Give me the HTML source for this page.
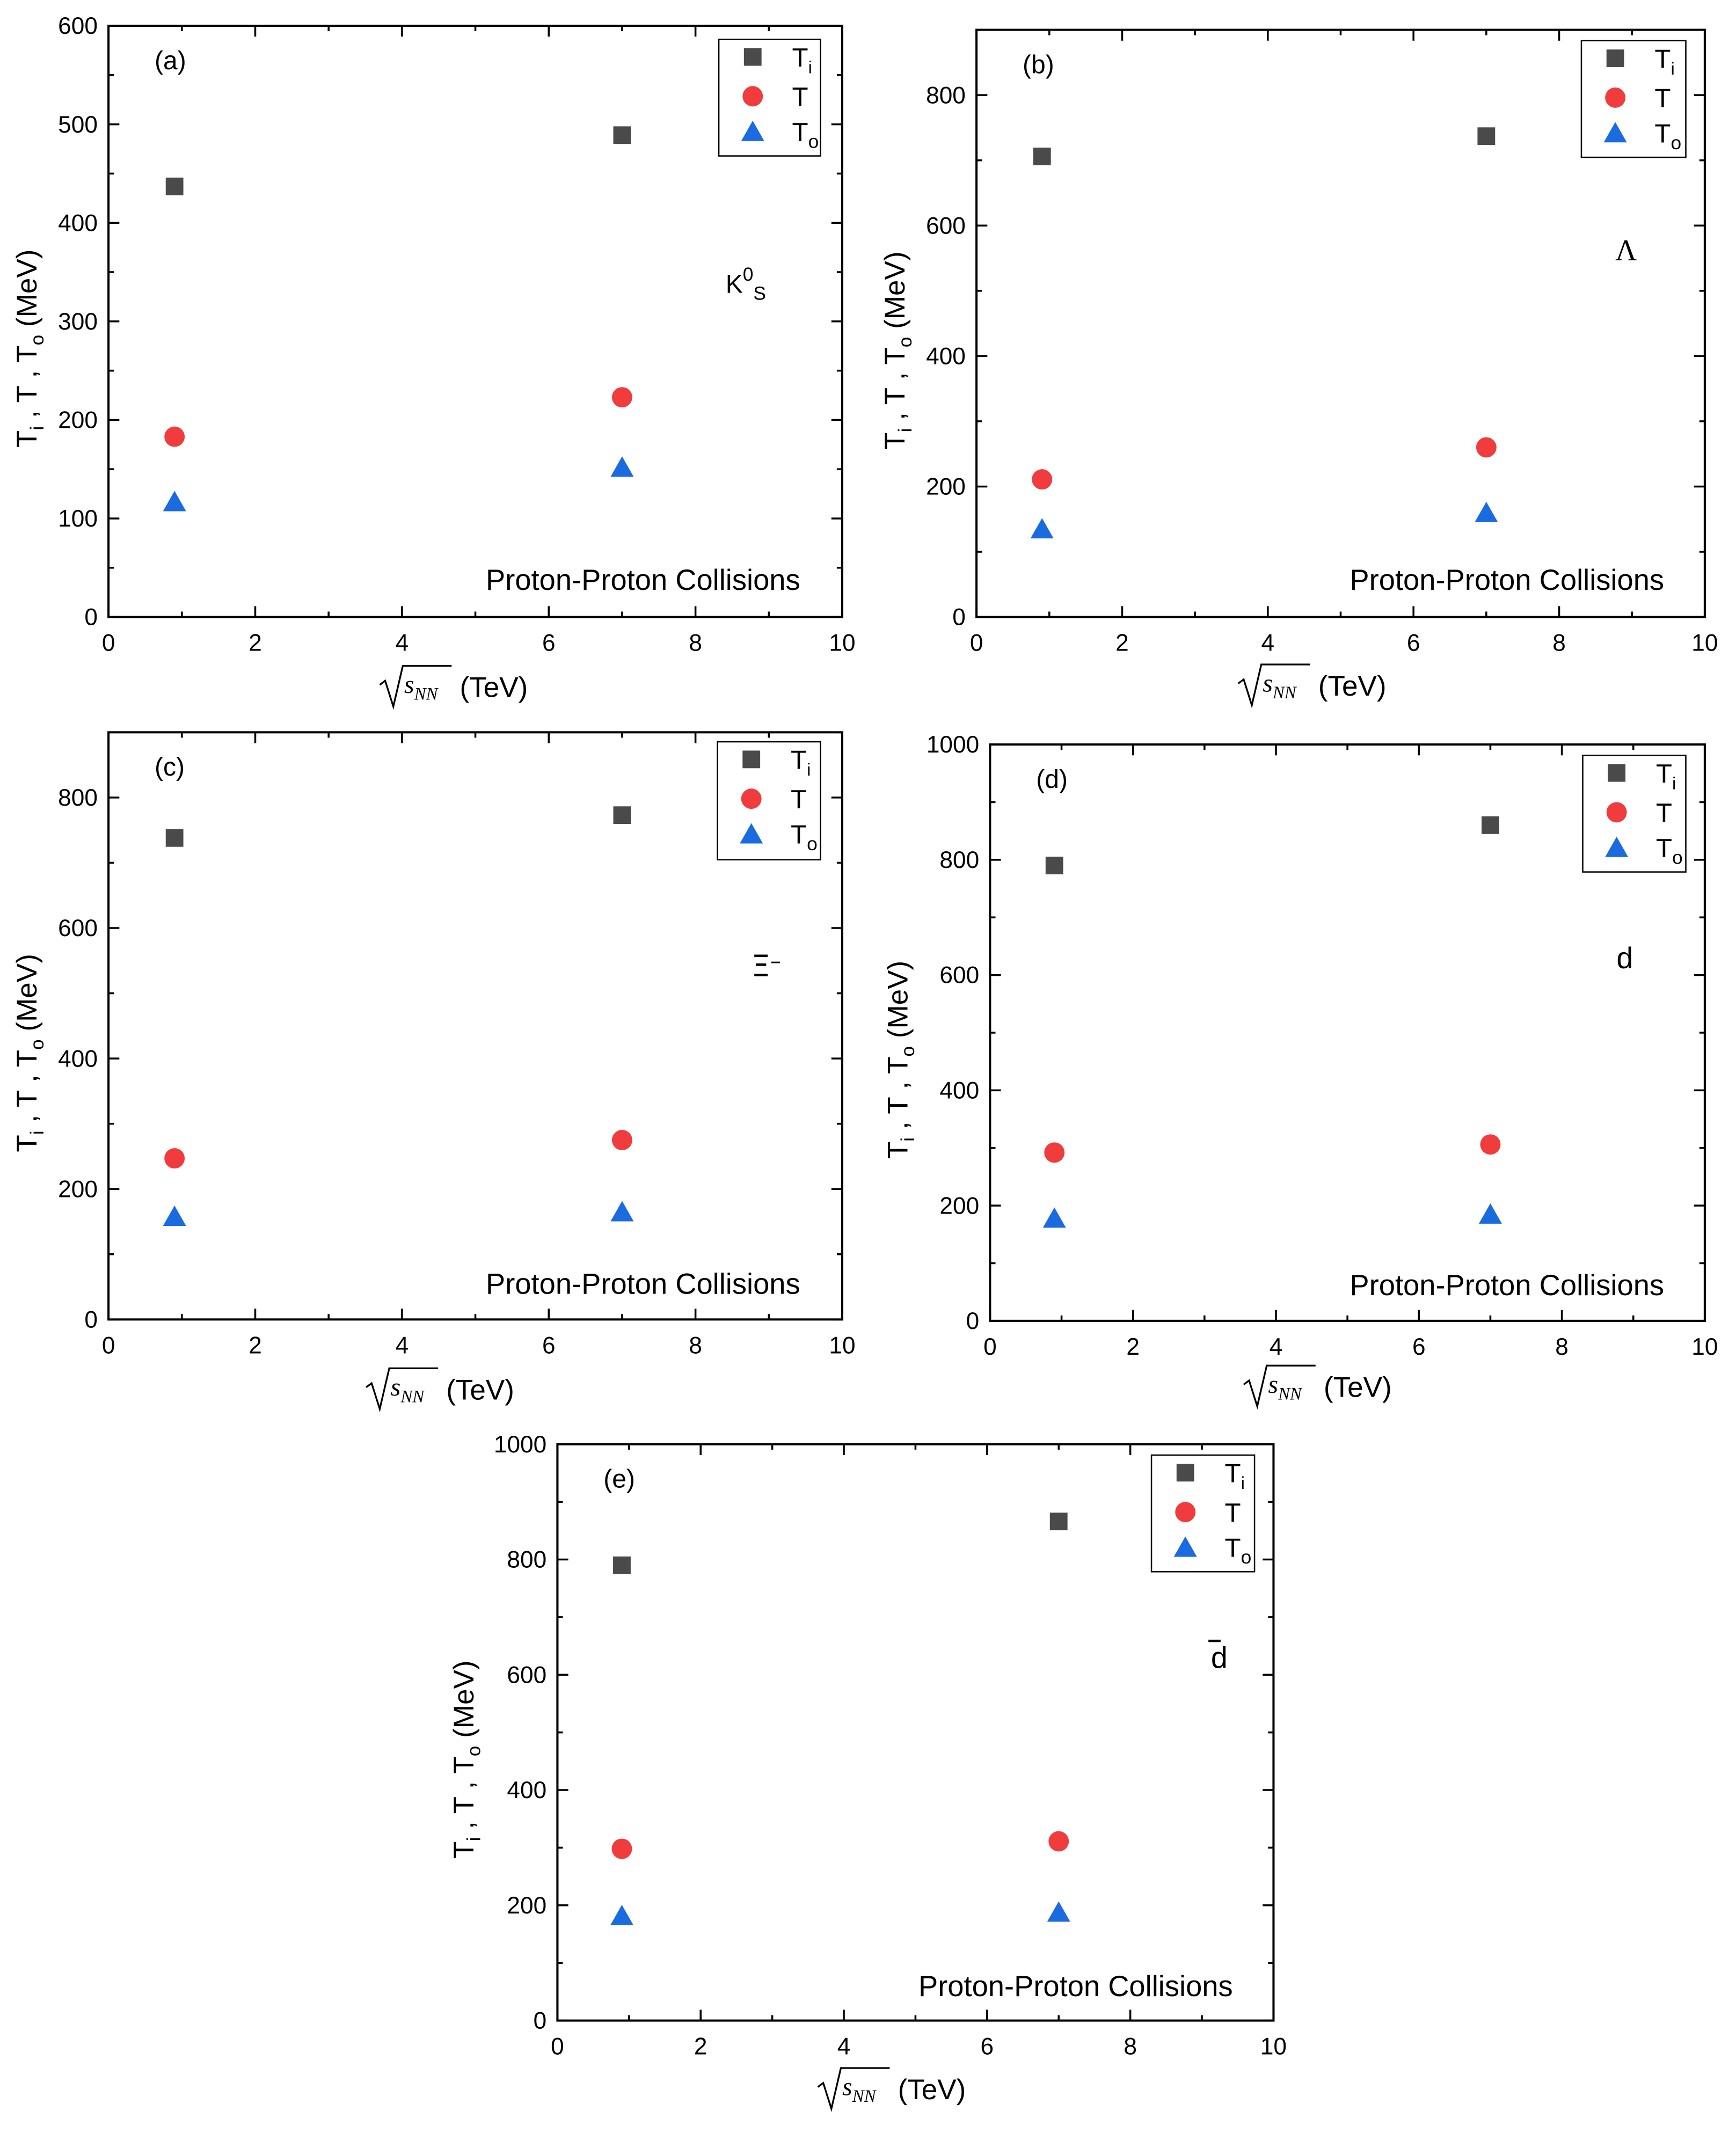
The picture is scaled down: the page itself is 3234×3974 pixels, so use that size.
<!DOCTYPE html>
<html><head><meta charset="utf-8"><style>
html,body{margin:0;padding:0;background:#fff;}
svg{display:block;font-family:"Liberation Sans",Arial,sans-serif;}
</style></head>
<body>
<svg id="fig" width="3234" height="3974" viewBox="0 0 1280 1572.9" xmlns="http://www.w3.org/2000/svg"></svg>
<script>
const xValues = [0.9, 7];
const xTicks = [0, 2, 4, 6, 8, 10];
const tiA = [437, 489], tA = [183, 223], toA = [117, 152];
const tiB = [706, 737], tB = [211, 260], toB = [135, 160];
const tiC = [738, 773], tC = [247, 275], toC = [158, 165];
const tiD = [790, 860], tD = [292, 306], toD = [178, 185];
const tiE = [790, 866], tE = [298, 311], toE = [182, 188];
const yTicksA = [0, 100, 200, 300, 400, 500, 600];
const yTicksB = [0, 200, 400, 600, 800];
const yTicksD = [0, 200, 400, 600, 800, 1000];

const panels = [
 {id:'a', x0:80, x1:621, y0:19, y1:455, ymax:600, yt:yTicksA, minorY:50, ti:tiA, t:tA, to:toA,
  leg:[530,29,605,115], ytx:20, xtc:[337,507], ppc:[590,428], sp:'K0S', spx:[550,210]},
 {id:'b', x0:720, x1:1257, y0:22, y1:455, ymax:900, yt:yTicksB, minorY:100, ti:tiB, t:tB, to:toB,
  leg:[1166,30,1243,116], ytx:660, xtc:[970,506], ppc:[1227,428], sp:'Λ', spx:[1199,184]},
 {id:'c', x0:80, x1:621, y0:540, y1:973, ymax:900, yt:yTicksB, minorY:100, ti:tiC, t:tC, to:toC,
  leg:[529,547,605,634], ytx:20, xtc:[327,1025], ppc:[590,947], sp:'Ξ', spx:[566,710]},
 {id:'d', x0:730, x1:1257, y0:549, y1:974, ymax:1000, yt:yTicksD, minorY:100, ti:tiD, t:tD, to:toD,
  leg:[1167,557,1243,643], ytx:662, xtc:[974,1023], ppc:[1227,948], sp:'d', spx:[1198,706]},
 {id:'e', x0:411, x1:939, y0:1065, y1:1490, ymax:1000, yt:yTicksD, minorY:100, ti:tiE, t:tE, to:toE,
  leg:[849,1073,925,1159], ytx:342, xtc:[660,1541], ppc:[909,1465], sp:'dbar', spx:[899,1222]}
];
const NS='http://www.w3.org/2000/svg';
const svg=document.getElementById('fig');
function mk(tag, attrs, parent){const e=document.createElementNS(NS,tag);for(const k in attrs)e.setAttribute(k,attrs[k]);(parent||svg).appendChild(e);return e;}

function square(g,cx,cy){return mk('rect',{x:cx-6.5,y:cy-6.5,width:13,height:13,fill:'#4a4a4a'},g);}
function circle(g,cx,cy){return mk('circle',{cx:cx,cy:cy,r:7.5,fill:'#f03c3c'},g);}
function tri(g,cx,cy){return mk('polygon',{points:`${cx-8.5},${cy+7} ${cx+8.5},${cy+7} ${cx},${cy-8}`,fill:'#1a6ae0'},g);}

panels.forEach(p=>{
  const g=mk('g',{});
  
  
  const sx=v=>p.x0+(v/10)*(p.x1-p.x0);
  const sy=v=>p.y1-(v/p.ymax)*(p.y1-p.y0);
  const frame=mk('rect',{x:p.x0,y:p.y0,width:p.x1-p.x0,height:p.y1-p.y0,fill:'none',stroke:'#000','stroke-width':1.6},g);
  
  
  for(let v=0;v<=10;v+=1){
    const L=(v%2===0)?8:4;const x=sx(v);
    mk('line',{x1:x,y1:p.y1,x2:x,y2:p.y1-L,stroke:'#000','stroke-width':1.4},g);
    mk('line',{x1:x,y1:p.y0,x2:x,y2:p.y0+L,stroke:'#000','stroke-width':1.4},g);
  }
  xTicks.forEach(v=>{
    const t=mk('text',{x:sx(v),y:p.y1+25,'font-size':17.5,'text-anchor':'middle'},g);t.textContent=v;
    
    
  });
  for(let v=0;v<=p.ymax;v+=p.minorY){
    const major=p.yt.indexOf(v)>=0;const L=major?8:4;const y=sy(v);
    mk('line',{x1:p.x0,y1:y,x2:p.x0+L,y2:y,stroke:'#000','stroke-width':1.4},g);
    mk('line',{x1:p.x1,y1:y,x2:p.x1-L,y2:y,stroke:'#000','stroke-width':1.4},g);
  }
  p.yt.forEach(v=>{
    const t=mk('text',{x:p.x0-8,y:sy(v)+6,'font-size':17.5,'text-anchor':'end'},g);t.textContent=v;
    
    
  });
  const yc=(p.y0+p.y1)/2+20;
  const yt=mk('text',{x:0,y:0,'font-size':21,'text-anchor':'middle',transform:`translate(${p.ytx+7},${yc}) rotate(-90)`},g);
  yt.innerHTML='T<tspan font-size="14" dy="5">i</tspan><tspan dy="-5"> , T , T</tspan><tspan font-size="14" dy="5">o</tspan><tspan dy="-5"> (MeV)</tspan>';
  
  
  const xg=mk('g',{transform:`translate(${p.xtc[0]},${p.xtc[1]})`},g);
  
  
  mk('path',{d:'M-57,-2 L-53,-5 L-47,14 L-40,-16 L-4,-16',fill:'none',stroke:'#000','stroke-width':1.3},xg);
  const sxT=mk('text',{x:-39,y:4,'font-size':19,'font-style':'italic','font-family':'Liberation Serif, serif'},xg);
  sxT.innerHTML='s<tspan font-size="13" dy="5">NN</tspan>';
  const tv=mk('text',{x:2,y:7,'font-size':21},xg);tv.textContent='(TeV)';
  const pl=mk('text',{x:p.x0+34,y:p.y0+32,'font-size':19},g);pl.textContent='('+p.id+')';
  
  
  let sp;
  if(p.sp==='K0S'){sp=mk('text',{x:p.spx[0]-15,y:p.spx[1]+6,'font-size':19},g);sp.innerHTML='K<tspan font-size="14" dy="-9">0</tspan><tspan font-size="14" dy="14">S</tspan>';}
  else if(p.sp==='Ξ'){sp=mk('text',{x:p.spx[0]-12,y:p.spx[1]+10,'font-size':22,'font-family':'DejaVu Sans, sans-serif'},g);sp.innerHTML='Ξ<tspan font-size="16" dy="-6">–</tspan>';}
  else if(p.sp==='dbar'){sp=mk('text',{x:p.spx[0],y:p.spx[1]+8,'font-size':22,'text-anchor':'middle'},g);sp.textContent='d';mk('line',{x1:p.spx[0]-8,y1:p.spx[1]-12,x2:p.spx[0]+1,y2:p.spx[1]-12,stroke:'#000','stroke-width':1.8},g);}
  else if(p.sp==='Λ'){sp=mk('text',{x:p.spx[0],y:p.spx[1]+8,'font-size':22,'text-anchor':'middle','font-family':'Liberation Serif, serif'},g);sp.textContent='Λ';}
  else {sp=mk('text',{x:p.spx[0],y:p.spx[1]+8,'font-size':22,'text-anchor':'middle'},g);sp.textContent=p.sp;}
  
  
  const pp=mk('text',{x:p.ppc[0],y:p.ppc[1]+7,'font-size':21.5,'text-anchor':'end'},g);pp.textContent='Proton-Proton Collisions';
  
  
  xValues.forEach((xv,i)=>{
    const s=square(g,sx(xv),sy(p.ti[i]));
    
    
    const c=circle(g,sx(xv),sy(p.t[i]));
    
    
    const tr=tri(g,sx(xv),sy(p.to[i]));
    
    
  });
  const [lx0,ly0,lx1,ly1]=p.leg;
  const lg=mk('g',{},g);
  
  
  mk('rect',{x:lx0,y:ly0,width:lx1-lx0,height:ly1-ly0,fill:'#fff',stroke:'#000','stroke-width':1},lg);
  const mx=lx0+25, tx=lx0+54;
  const rows=[ly0+13,ly0+42,ly0+68];
  square(lg,mx,rows[0]); circle(lg,mx,rows[1]); tri(lg,mx,rows[2]);
  const l1=mk('text',{x:tx,y:rows[0]+7,'font-size':19.5},lg);l1.innerHTML='T<tspan font-size="13" dy="5">i</tspan>';
  
  
  const l2=mk('text',{x:tx,y:rows[1]+7,'font-size':19.5},lg);l2.textContent='T';
  
  
  const l3=mk('text',{x:tx,y:rows[2]+7,'font-size':19.5},lg);l3.innerHTML='T<tspan font-size="14" dy="5">o</tspan>';
  
  
});
</script>
</body></html>
